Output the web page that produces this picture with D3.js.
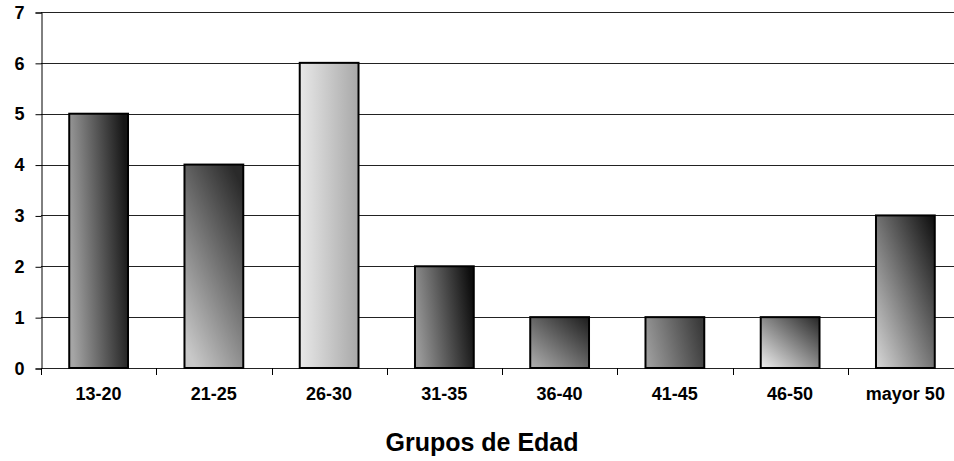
<!DOCTYPE html>
<html>
<head>
<meta charset="utf-8">
<script src="https://cdn.jsdelivr.net/npm/d3@7"></script>
<style>
body{margin:0;background:#fff;font-family:Arial, "Liberation Sans", sans-serif;}
svg text{font-weight:bold;fill:#000;}
</style>
</head>
<body>
<svg id="chart" width="954" height="461"></svg>
<script>
// data
var grupos = ['13-20','21-25','26-30','31-35','36-40','41-45','46-50','mayor 50']
var cantidad = [5,4,6,2,1,1,1,3]
var yTicks = [0,1,2,3,4,5,6,7]
var xTitulo = 'Grupos de Edad'

// gradient look for each bar (light corner -> dark corner)
var shade = [
  {x1:0,y1:0.6,x2:1,y2:0.4,a:'#a5a5a5',b:'#161616'},
  {x1:0.2,y1:1,x2:0.8,y2:0,a:'#c8c8c8',b:'#2a2a2a'},
  {x1:0,y1:0.5,x2:1,y2:0.5,a:'#e8e8e8',b:'#a8a8a8'},
  {x1:0,y1:0.6,x2:1,y2:0.4,a:'#9a9a9a',b:'#0e0e0e'},
  {x1:0,y1:1,x2:1,y2:0,a:'#b0b0b0',b:'#1c1c1c'},
  {x1:0,y1:0.6,x2:1,y2:0.4,a:'#9c9c9c',b:'#3a3a3a'},
  {x1:0,y1:1,x2:1,y2:0,a:'#f0f0f0',b:'#262626'},
  {x1:0,y1:1,x2:1,y2:0,a:'#d8d8d8',b:'#0c0c0c'}
]

var svg = d3.select('#chart')
var mLeft = 41, mRight = 963, mTop = 12, mBottom = 368

// the plot runs a little past the right edge of the picture, as in the scan
var x = d3.scaleBand().domain(grupos).range([mLeft,mRight]).paddingInner(0.49).paddingOuter(0.245)
var y = d3.scaleLinear().domain([0,7]).range([mBottom,mTop])

var defs = svg.append('defs')
shade.forEach(function(s,i){
  var g = defs.append('linearGradient').attr('id','g'+i)
    .attr('x1',s.x1).attr('y1',s.y1).attr('x2',s.x2).attr('y2',s.y2)
  g.append('stop').attr('offset','0%').attr('stop-color',s.a)
  g.append('stop').attr('offset','100%').attr('stop-color',s.b)
})

// grid lines
svg.append('g').selectAll('line').data(yTicks).enter().append('line')
  .attr('x1',mLeft).attr('x2',mRight)
  .attr('y1',function(d){return Math.round(y(d))+0.5})
  .attr('y2',function(d){return Math.round(y(d))+0.5})
  .attr('stroke','#222').attr('stroke-width',1)

// y axis
var yAxis = svg.append('g').attr('transform','translate('+(mLeft+0.5)+',0.5)')
  .call(d3.axisLeft(y).tickValues(yTicks).tickSize(6).tickPadding(11).tickFormat(d3.format('d')))
yAxis.select('.domain').attr('stroke','#000')
yAxis.selectAll('.tick line').attr('stroke','#000')
yAxis.selectAll('text').attr('font-size',18).attr('font-family','Arial, "Liberation Sans", sans-serif')

// x axis: labels centred on bands, ticks between them
var step = x.step()
svg.append('g').selectAll('line').data(d3.range(grupos.length+1)).enter().append('line')
  .attr('x1',function(i){return Math.round(mLeft+i*step)+0.5})
  .attr('x2',function(i){return Math.round(mLeft+i*step)+0.5})
  .attr('y1',mBottom).attr('y2',mBottom+7)
  .attr('stroke','#000')

svg.append('g').selectAll('text').data(grupos).enter().append('text')
  .attr('x',function(d){return x(d)+x.bandwidth()/2})
  .attr('y',mBottom+32)
  .attr('text-anchor','middle')
  .attr('font-size',18)
  .text(function(d){return d})

// bars
svg.append('g').selectAll('rect').data(cantidad).enter().append('rect')
  .attr('x',function(d,i){return x(grupos[i])})
  .attr('y',function(d){return y(d)})
  .attr('width',x.bandwidth())
  .attr('height',function(d){return y(0)-y(d)})
  .attr('fill',function(d,i){return 'url(#g'+i+')'})
  .attr('stroke','#000').attr('stroke-width',2)

// title
svg.append('text')
  .attr('x',482).attr('y',451)
  .attr('text-anchor','middle')
  .attr('font-size',25)
  .text(xTitulo)
</script>
</body>
</html>
